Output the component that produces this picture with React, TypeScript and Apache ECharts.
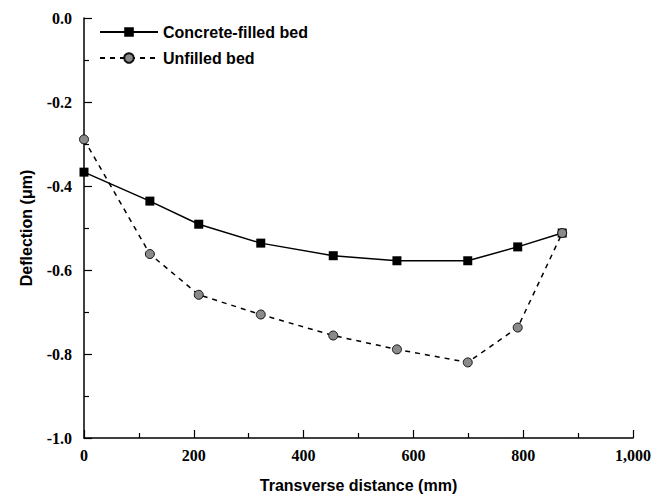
import React, { useEffect, useRef } from "react";
import * as echarts from "echarts";

const xConcrete = [0, 120, 209, 322, 454, 570, 699, 790, 871];
const yConcrete = [-0.367, -0.436, -0.491, -0.536, -0.566, -0.578, -0.578, -0.545, -0.512];
const xUnfilled = [0, 120, 209, 322, 454, 570, 699, 790, 871];
const yUnfilled = [-0.289, -0.562, -0.659, -0.706, -0.756, -0.789, -0.82, -0.737, -0.512];
const seriesNames = ["Concrete-filled bed", "Unfilled bed"];
const xTitle = "Transverse distance (mm)";
const yTitle = "Deflection (\u03bcm)";

const sans = "Liberation Sans";
const serif = "Liberation Serif";

export default function App() {
  const ref = useRef<HTMLDivElement>(null);
  useEffect(() => {
    if (!ref.current) return;
    const chart = echarts.init(ref.current, undefined, { renderer: "svg" });
    const pairs = (xs: number[], ys: number[]) => xs.map((x, i) => [x, ys[i]]);
    chart.setOption({
      animation: false,
      backgroundColor: "#ffffff",
      grid: { show: false, borderWidth: 0, left: 84, right: 34, top: 18, bottom: 59, containLabel: false },
      legend: {
        orient: "vertical",
        left: 94,
        top: 19,
        itemWidth: 58,
        itemHeight: 12,
        itemGap: 10,
        textStyle: { fontFamily: sans, fontWeight: "bold", fontSize: 16, color: "#000" },
        data: seriesNames,
      },
      xAxis: {
        type: "value",
        min: 0,
        max: 1000,
        interval: 200,
        name: xTitle,
        nameLocation: "middle",
        nameGap: 39,
        nameTextStyle: { fontFamily: sans, fontWeight: "bold", fontSize: 16, color: "#000" },
        axisLine: { show: true, onZero: false, lineStyle: { color: "#000", width: 1.5 } },
        axisTick: { show: true, inside: true, length: 8, lineStyle: { color: "#000", width: 1.2 } },
        minorTick: { show: true, splitNumber: 2, length: 5, lineStyle: { color: "#000", width: 1.2 } },
        splitLine: { show: false },
        minorSplitLine: { show: false },
        axisLabel: {
          fontFamily: serif,
          fontWeight: "bold",
          fontSize: 16,
          color: "#000",
          margin: 9,
          formatter: (v: number) => v.toLocaleString("en-US"),
        },
      },
      yAxis: {
        type: "value",
        min: -1,
        max: 0,
        interval: 0.2,
        name: yTitle,
        nameLocation: "middle",
        nameGap: 50,
        nameTextStyle: { fontFamily: sans, fontWeight: "bold", fontSize: 16, color: "#000" },
        axisLine: { show: true, onZero: false, lineStyle: { color: "#000", width: 1.5 } },
        axisTick: { show: true, inside: true, length: 8, lineStyle: { color: "#000", width: 1.2 } },
        minorTick: { show: true, splitNumber: 2, length: 5, lineStyle: { color: "#000", width: 1.2 } },
        splitLine: { show: false },
        minorSplitLine: { show: false },
        axisLabel: {
          fontFamily: serif,
          fontWeight: "bold",
          fontSize: 16,
          color: "#000",
          margin: 12,
          formatter: (v: number) => v.toFixed(1),
        },
      },
      series: [
        {
          name: seriesNames[0],
          type: "line",
          data: pairs(xConcrete, yConcrete),
          symbol: "rect",
          symbolSize: 9,
          itemStyle: { color: "#000" },
          lineStyle: { color: "#000", width: 1.5, type: "solid" },
          clip: false,
          z: 2,
        },
        {
          name: seriesNames[1],
          type: "line",
          data: pairs(xUnfilled, yUnfilled),
          symbol: "circle",
          symbolSize: 9,
          showAllSymbol: true,
          itemStyle: { color: "#8a8a8a", borderColor: "#111", borderWidth: 1 },
          lineStyle: { color: "#000", width: 1.5, type: [5, 5] },
          clip: false,
          z: 3,
        },
      ],
    });
    return () => chart.dispose();
  }, []);
  return (
    <div
      ref={ref}
      style={{ position: "fixed", left: 0, top: 0, width: 667, height: 498, background: "#fff" }}
    />
  );
}
